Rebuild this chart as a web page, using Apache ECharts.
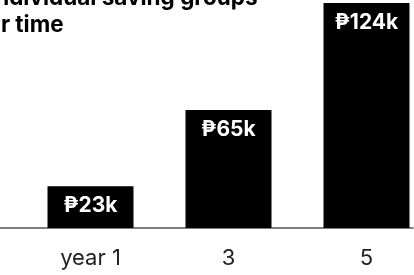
<!DOCTYPE html>
<html>
  <head>
    <meta charset="utf-8" />
    <title>Saving groups</title>
    <script src="https://cdn.jsdelivr.net/npm/echarts@6/dist/echarts.min.js"></script>
    <style>
      html, body { margin: 0; padding: 0; background: #fff; }
    </style>
  </head>
  <body>
    <div id="main" style="width: 414px; height: 275px"></div>
    <script type="text/javascript">
      // data
      var years = [1, 3, 5];
      var yearLabels = ["year 1", "3", "5"];
      var savings = [23, 65, 124]; // thousands of pesos

      var myChart = echarts.init(document.getElementById("main"), null, {
        renderer: "canvas",
      });

      var font = "Inter";

      var option = {
        animation: false,
        title: {
          text: "of individual saving groups\nover time",
          left: -39,
          top: -15,
          padding: 0,
          textStyle: {
            fontFamily: font,
            fontSize: 22.5,
            fontWeight: "bold",
            lineHeight: 27,
            color: "#000",
          },
        },
        grid: {
          left: 0,
          right: 1,
          top: 3,
          bottom: 47,
          containLabel: false,
        },
        xAxis: {
          type: "value",
          min: -0.3116,
          max: 5.674,
          splitLine: { show: false },
          axisLine: {
            show: true,
            lineStyle: { color: "#555", width: 1.5 },
          },
          axisTick: { show: false },
          axisLabel: {
            customValues: years,
            margin: 19,
            fontFamily: font,
            fontSize: 22,
            color: "#222",
            formatter: function (v) {
              return yearLabels[years.indexOf(v)];
            },
          },
        },
        yAxis: {
          type: "value",
          min: 0,
          max: 124,
          show: false,
        },
        series: [
          {
            type: "bar",
            barWidth: 86,
            itemStyle: { color: "#000" },
            label: {
              show: true,
              position: "insideTop",
              distance: 9,
              color: "#fff",
              fontFamily: font,
              fontSize: 21,
              fontWeight: "bold",
              formatter: function (p) {
                return "₱" + p.value[1] + "k";
              },
            },
            data: years.map(function (y, i) {
              return [y, savings[i]];
            }),
          },
        ],
      };

      myChart.setOption(option);
    </script>
  </body>
</html>
